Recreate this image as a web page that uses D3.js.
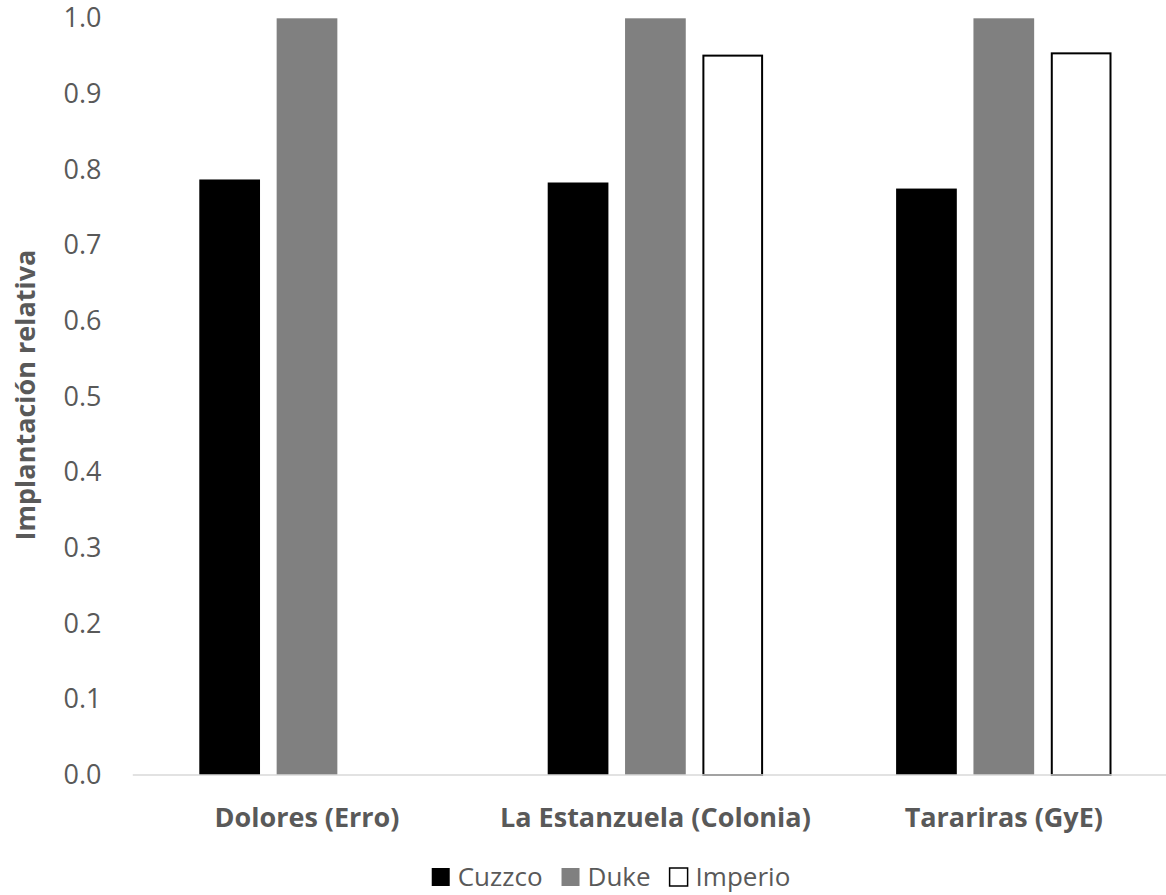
<!DOCTYPE html>
<html>
<head>
<meta charset="utf-8">
<script src="https://cdn.jsdelivr.net/npm/d3@7"></script>
<style>
  html, body { margin: 0; padding: 0; background: #fff; }
  svg { display: block; font-family: "Open Sans", sans-serif; }
</style>
</head>
<body>
<svg id="chart" width="1166" height="895"></svg>
<script>
// Sites (categories) and cultivars (series)
const categories = ["Dolores (Erro)", "La Estanzuela (Colonia)", "Tarariras (GyE)"];
const seriesNames = ["Cuzzco", "Duke", "Imperio"];

// Relative implantation per cultivar, one value per site (null = not sown)
const cuzzco  = [0.787, 0.783, 0.775];
const duke    = [1.0, 1.0, 1.0];
const imperio = [null, 0.952, 0.955];

const yTicks = [0, 0.1, 0.2, 0.3, 0.4, 0.5, 0.6, 0.7, 0.8, 0.9, 1.0];

const seriesValues = [cuzzco, duke, imperio];
const seriesStyle = {
  Cuzzco:  { fill: "#000000", stroke: "none", sw: 0 },
  Duke:    { fill: "#808080", stroke: "none", sw: 0 },
  Imperio: { fill: "#ffffff", stroke: "#000000", sw: 2 }
};

const textColor = "#595959";
const svg = d3.select("#chart");

// Plot area
const plot = { left: 132.8, right: 1178, top: 18.3, bottom: 775 };

const x0 = d3.scaleBand()
  .domain(categories)
  .range([plot.left, plot.right])
  .paddingInner(0).paddingOuter(0);

const groupInset = 66.5;
const x1 = d3.scaleBand()
  .domain(seriesNames)
  .range([groupInset, x0.bandwidth() - groupInset])
  .paddingInner(0.215).paddingOuter(0);

const y = d3.scaleLinear().domain([0, 1]).range([plot.bottom, plot.top]);

// Flatten into bar records
const bars = [];
categories.forEach((c, i) => {
  seriesNames.forEach((s, j) => {
    const v = seriesValues[j][i];
    if (v != null) bars.push({ category: c, series: s, value: v });
  });
});

// Bars
svg.append("g").selectAll("rect")
  .data(bars)
  .join("rect")
  .attr("x", d => {
    const st = seriesStyle[d.series];
    return x0(d.category) + x1(d.series) + st.sw / 2;
  })
  .attr("y", d => y(d.value) + seriesStyle[d.series].sw / 2)
  .attr("width", d => x1.bandwidth() - seriesStyle[d.series].sw)
  .attr("height", d => y(0) - y(d.value) - seriesStyle[d.series].sw / 2)
  .attr("fill", d => seriesStyle[d.series].fill)
  .attr("stroke", d => seriesStyle[d.series].stroke)
  .attr("stroke-width", d => seriesStyle[d.series].sw);

// Category axis line
svg.append("line")
  .attr("x1", plot.left).attr("x2", plot.right)
  .attr("y1", plot.bottom).attr("y2", plot.bottom)
  .attr("stroke", "#d9d9d9").attr("stroke-width", 1.5);

// Y axis labels (no axis line, no ticks)
const yAxis = d3.axisLeft(y)
  .tickValues(yTicks)
  .tickFormat(d3.format(".1f"))
  .tickSize(0)
  .tickPadding(0);

const yg = svg.append("g")
  .attr("transform", "translate(101.5,0)")
  .call(yAxis);
yg.select(".domain").remove();
yg.selectAll("text")
  .attr("fill", textColor)
  .style("font-size", "27px")
  .style("font-family", "'Open Sans', sans-serif");

// Category labels
const xAxis = d3.axisBottom(x0).tickSize(0).tickPadding(0);
const xg = svg.append("g")
  .attr("transform", `translate(0,${plot.bottom})`)
  .call(xAxis);
xg.select(".domain").remove();
xg.selectAll("text")
  .attr("dy", null)
  .attr("y", 52)
  .attr("fill", textColor)
  .style("font-size", "27px")
  .style("font-weight", "bold")
  .style("font-family", "'Open Sans', sans-serif");

// Y axis title
svg.append("text")
  .attr("transform", "translate(35,395) rotate(-90)")
  .attr("text-anchor", "middle")
  .attr("fill", textColor)
  .style("font-size", "27px")
  .style("font-weight", "bold")
  .text("Implantación relativa");

// Legend, centred below the plot
const legend = svg.append("g");
const items = legend.selectAll("g")
  .data(seriesNames)
  .join("g");

items.append("rect")
  .attr("width", 18).attr("height", 18)
  .attr("y", -18)
  .attr("fill", d => seriesStyle[d].fill)
  .attr("stroke", d => seriesStyle[d].stroke === "none" ? "none" : "#000")
  .attr("stroke-width", d => seriesStyle[d].sw ? 1.5 : 0);

items.append("text")
  .attr("x", 26)
  .attr("fill", textColor)
  .style("font-size", "26px")
  .text(d => d);

let cursor = 0;
items.each(function () {
  const g = d3.select(this);
  g.attr("transform", `translate(${cursor},0)`);
  const w = 26 + g.select("text").node().getComputedTextLength();
  cursor += w + 19;
});
const legendWidth = cursor - 19;
legend.attr("transform", `translate(${611 - legendWidth / 2},886)`);
</script>
</body>
</html>
